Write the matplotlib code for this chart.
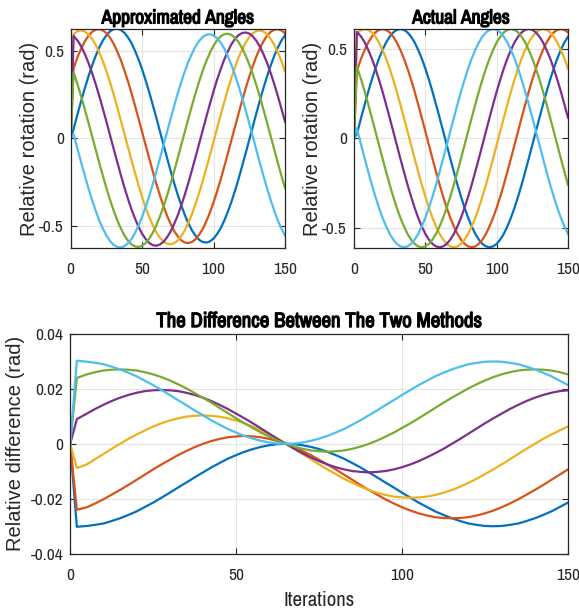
import matplotlib
matplotlib.use("Agg")
import matplotlib.pyplot as plt
from matplotlib import font_manager
import matplotlib.patheffects as pe

# ---------------- data ----------------
iterations = [0, 2, 5, 7.5, 10, 12.5, 15, 17.5, 20, 22.5, 25, 27.5, 30, 32.5, 35, 37.5,
              40, 42.5, 45, 47.5, 50, 52.5, 55, 57.5, 60, 62.5, 65, 67.5, 70, 72.5, 75,
              77.5, 80, 82.5, 85, 87.5, 90, 92.5, 95, 97.5, 100, 102.5, 105, 107.5, 110,
              112.5, 115, 117.5, 120, 122.5, 125, 127.5, 130, 132.5, 135, 137.5, 140,
              142.5, 145, 147.5, 150]

series_colors = ["#0072BD", "#D95319", "#EDB120", "#7E2F8E", "#77AC30", "#4DBEEE"]

# Approximated angles (rad)
apx_blue = [0, .053,
            .144, .218, .289, .355, .416, .471, .518, .558, .588, .611,
            .623, .626, .619, .603, .577, .544, .500, .450, .393, .330,
            .262, .189, .115, .038, -.038, -.114, -.188, -.259, -.325, -.386,
            -.441, -.488, -.528, -.558, -.581, -.593, -.596, -.589, -.573, -.547,
            -.514, -.470, -.420, -.363, -.300, -.232, -.159, -.085, -.008, .068,
            .144, .218, .289, .355, .416, .471, .518, .558, .588]
apx_orange = [0, .400,
              .468, .515, .555, .586, .608, .620, .623, .616, .600, .575,
              .541, .497, .448, .390, .327, .259, .186, .112, .035, -.041,
              -.117, -.190, -.262, -.328, -.389, -.444, -.490, -.531, -.561, -.584,
              -.596, -.599, -.592, -.576, -.550, -.517, -.473, -.423, -.366, -.303,
              -.235, -.162, -.087, -.011, .065, .141, .215, .286, .352, .413,
              .468, .515, .555, .586, .608, .620, .623, .616, .600]
apx_yellow = [0, .595,
              .613, .616, .609, .593, .567, .533, .490, .440, .383, .320,
              .252, .179, .104, .028, -.048, -.124, -.198, -.269, -.336, -.397,
              -.451, -.498, -.538, -.569, -.591, -.603, -.606, -.599, -.584, -.558,
              -.524, -.480, -.431, -.373, -.310, -.242, -.169, -.095, -.019, .058,
              .134, .207, .279, .345, .406, .461, .507, .548, .578, .600,
              .613, .616, .609, .593, .567, .533, .490, .440, .383]
apx_purple = [0, .585,
              .556, .522, .479, .429, .372, .309, .241, .169, .095, .018,
              -.058, -.133, -.207, -.278, -.344, -.405, -.459, -.506, -.546, -.576,
              -.599, -.611, -.614, -.607, -.591, -.565, -.532, -.488, -.439, -.382,
              -.319, -.251, -.178, -.104, -.028, .048, .124, .197, .269, .335,
              .395, .450, .496, .537, .567, .589, .601, .604, .598, .582,
              .556, .522, .479, .429, .372, .309, .241, .169, .095]
apx_green = [0, .376,
             .302, .234, .161, .087, .011, -.065, -.141, -.214, -.285, -.351,
             -.412, -.467, -.513, -.554, -.584, -.606, -.618, -.621, -.614, -.599,
             -.573, -.539, -.496, -.446, -.389, -.326, -.258, -.186, -.111, -.035,
             .041, .116, .190, .261, .327, .388, .442, .489, .529, .560,
             .582, .594, .597, .590, .574, .549, .515, .471, .422, .365,
             .302, .234, .161, .087, .011, -.065, -.141, -.214, -.285]
apx_lblue = [0, .023,
             -.068, -.144, -.217, -.288, -.354, -.415, -.470, -.516, -.556, -.587,
             -.609, -.621, -.624, -.617, -.601, -.576, -.542, -.498, -.449, -.392,
             -.329, -.261, -.189, -.114, -.038, .038, .113, .187, .258, .324,
             .385, .440, .486, .526, .557, .579, .591, .594, .587, .571,
             .546, .512, .468, .419, .362, .299, .231, .159, .084, .008,
             -.068, -.144, -.217, -.288, -.354, -.415, -.470, -.516, -.556]

# Actual angles (rad)
act_blue = [0, .023,
            .114, .188, .260, .327, .389, .445, .493, .535, .567, .591,
            .605, .610, .605, .591, .567, .535, .493, .445, .389, .327,
            .260, .188, .114, .038, -.038, -.114, -.188, -.260, -.327, -.389,
            -.445, -.493, -.535, -.567, -.591, -.605, -.610, -.605, -.591, -.567,
            -.535, -.493, -.445, -.389, -.327, -.260, -.188, -.114, -.038, .038,
            .114, .188, .260, .327, .389, .445, .493, .535, .567]
act_orange = [0, .377,
              .445, .493, .535, .567, .591, .605, .610, .605, .591, .567,
              .535, .493, .445, .389, .327, .260, .188, .114, .038, -.038,
              -.114, -.188, -.260, -.327, -.389, -.445, -.493, -.535, -.567, -.591,
              -.605, -.610, -.605, -.591, -.567, -.535, -.493, -.445, -.389, -.327,
              -.260, -.188, -.114, -.038, .038, .114, .188, .260, .327, .389,
              .445, .493, .535, .567, .591, .605, .610, .605, .591]
act_yellow = [0, .586,
              .605, .610, .605, .591, .567, .535, .493, .445, .389, .327,
              .260, .188, .114, .038, -.038, -.114, -.188, -.260, -.327, -.389,
              -.445, -.493, -.535, -.567, -.591, -.605, -.610, -.605, -.591, -.567,
              -.535, -.493, -.445, -.389, -.327, -.260, -.188, -.114, -.038, .038,
              .114, .188, .260, .327, .389, .445, .493, .535, .567, .591,
              .605, .610, .605, .591, .567, .535, .493, .445, .389]
act_purple = [0, .594,
              .567, .535, .493, .445, .389, .327, .260, .188, .114, .038,
              -.038, -.114, -.188, -.260, -.327, -.389, -.445, -.493, -.535, -.567,
              -.591, -.605, -.610, -.605, -.591, -.567, -.535, -.493, -.445, -.389,
              -.327, -.260, -.188, -.114, -.038, .038, .114, .188, .260, .327,
              .389, .445, .493, .535, .567, .591, .605, .610, .605, .591,
              .567, .535, .493, .445, .389, .327, .260, .188, .114]
act_green = [0, .400,
             .327, .260, .188, .114, .038, -.038, -.114, -.188, -.260, -.327,
             -.389, -.445, -.493, -.535, -.567, -.591, -.605, -.610, -.605, -.591,
             -.567, -.535, -.493, -.445, -.389, -.327, -.260, -.188, -.114, -.038,
             .038, .114, .188, .260, .327, .389, .445, .493, .535, .567,
             .591, .605, .610, .605, .591, .567, .535, .493, .445, .389,
             .327, .260, .188, .114, .038, -.038, -.114, -.188, -.260]
act_lblue = [0, .053,
             -.038, -.114, -.188, -.260, -.327, -.389, -.445, -.493, -.535, -.567,
             -.591, -.605, -.610, -.605, -.591, -.567, -.535, -.493, -.445, -.389,
             -.327, -.260, -.188, -.114, -.038, .038, .114, .188, .260, .327,
             .389, .445, .493, .535, .567, .591, .605, .610, .605, .591,
             .567, .535, .493, .445, .389, .327, .260, .188, .114, .038,
             -.038, -.114, -.188, -.260, -.327, -.389, -.445, -.493, -.535]

# Difference between the two methods (rad)
dif_blue = [0, -.0302,
            -.0299, -.0295, -.0290, -.0281, -.0271, -.0259, -.0246, -.0230, -.0214, -.0196,
            -.0178, -.0159, -.0141, -.0122, -.0104, -.0086, -.0070, -.0054, -.0041, -.0029,
            -.0019, -.0011, -.0005, -.0001, 0, -.0001, -.0005, -.0011, -.0019, -.0029,
            -.0041, -.0054, -.0070, -.0086, -.0104, -.0122, -.0141, -.0159, -.0178, -.0196,
            -.0214, -.0230, -.0246, -.0259, -.0271, -.0281, -.0290, -.0295, -.0299, -.0300,
            -.0299, -.0295, -.0290, -.0281, -.0271, -.0259, -.0246, -.0230, -.0214]
dif_orange = [0, -.0240,
              -.0231, -.0217, -.0202, -.0185, -.0168, -.0150, -.0131, -.0112, -.0093, -.0075,
              -.0058, -.0041, -.0026, -.0012, 0, .0010, .0018, .0024, .0027, .0029,
              .0027, .0024, .0018, .0010, 0, -.0012, -.0026, -.0041, -.0058, -.0075,
              -.0093, -.0112, -.0131, -.0150, -.0168, -.0185, -.0202, -.0217, -.0231, -.0243,
              -.0253, -.0261, -.0267, -.0270, -.0271, -.0270, -.0267, -.0261, -.0253, -.0243,
              -.0231, -.0217, -.0202, -.0185, -.0168, -.0150, -.0131, -.0112, -.0093]
dif_yellow = [0, -.0088,
              -.0075, -.0056, -.0037, -.0018, 0, .0018, .0034, .0049, .0063, .0075,
              .0085, .0093, .0099, .0102, .0104, .0102, .0099, .0093, .0085, .0075,
              .0063, .0049, .0034, .0018, 0, -.0018, -.0037, -.0056, -.0075, -.0093,
              -.0110, -.0127, -.0142, -.0156, -.0168, -.0178, -.0186, -.0192, -.0195, -.0196,
              -.0195, -.0192, -.0186, -.0178, -.0168, -.0156, -.0142, -.0127, -.0110, -.0093,
              -.0075, -.0056, -.0037, -.0018, 0, .0018, .0034, .0049, .0063]
dif_purple = [0, .0090,
              .0110, .0127, .0142, .0156, .0168, .0178, .0186, .0192, .0195, .0196,
              .0195, .0192, .0186, .0178, .0168, .0156, .0142, .0127, .0110, .0093,
              .0075, .0056, .0037, .0018, 0, -.0018, -.0034, -.0049, -.0063, -.0075,
              -.0085, -.0093, -.0099, -.0102, -.0104, -.0102, -.0099, -.0093, -.0085, -.0075,
              -.0063, -.0049, -.0034, -.0018, 0, .0018, .0037, .0056, .0075, .0093,
              .0110, .0127, .0142, .0156, .0168, .0178, .0186, .0192, .0195]
dif_green = [0, .0240,
             .0253, .0261, .0267, .0270, .0271, .0270, .0267, .0261, .0253, .0243,
             .0231, .0217, .0202, .0185, .0168, .0150, .0131, .0112, .0093, .0075,
             .0058, .0041, .0026, .0012, 0, -.0010, -.0018, -.0024, -.0027, -.0029,
             -.0027, -.0024, -.0018, -.0010, 0, .0012, .0026, .0041, .0058, .0075,
             .0093, .0112, .0131, .0150, .0168, .0185, .0202, .0217, .0231, .0243,
             .0253, .0261, .0267, .0270, .0271, .0270, .0267, .0261, .0253]
dif_lblue = [0, .0303,
             .0299, .0295, .0290, .0281, .0271, .0259, .0246, .0230, .0214, .0196,
             .0178, .0159, .0141, .0122, .0104, .0086, .0070, .0054, .0041, .0029,
             .0019, .0011, .0005, .0001, 0, .0001, .0005, .0011, .0019, .0029,
             .0041, .0054, .0070, .0086, .0104, .0122, .0141, .0159, .0178, .0196,
             .0214, .0230, .0246, .0259, .0271, .0281, .0290, .0295, .0299, .0300,
             .0299, .0295, .0290, .0281, .0271, .0259, .0246, .0230, .0214]

approx_series = [apx_blue, apx_orange, apx_yellow, apx_purple, apx_green, apx_lblue]
actual_series = [act_blue, act_orange, act_yellow, act_purple, act_green, act_lblue]
diff_series = [dif_blue, dif_orange, dif_yellow, dif_purple, dif_green, dif_lblue]

x_ticks = [0, 50, 100, 150]
top_yticks = [-0.5, 0, 0.5]
top_yticklabels = ["-0.5", "0", "0.5"]
bot_yticks = [-0.04, -0.02, 0, 0.02, 0.04]
bot_yticklabels = ["-0.04", "-0.02", "0", "0.02", "0.04"]

# ---------------- style ----------------
names = {f.name for f in font_manager.fontManager.ttflist}
narrow = "Liberation Sans"
for cand in ["Liberation Sans Narrow", "Arial Narrow", "Archivo Narrow", "PT Sans Narrow",
             "Roboto Condensed", "Pragati Narrow", "Fira Sans Condensed",
             "IBM Plex Sans Condensed", "Encode Sans Condensed"]:
    if cand in names:
        narrow = cand
        break
plt.rcParams["font.family"] = [narrow, "Liberation Sans", "DejaVu Sans"]
plt.rcParams["axes.unicode_minus"] = False

fig = plt.figure(figsize=(5.79, 6.12), dpi=100)
W, H = 579, 612

def px_axes(l, t, r, b):
    return fig.add_axes([l / W, 1 - b / H, (r - l) / W, (b - t) / H])

ax1 = px_axes(70.7, 29, 285, 248)
ax2 = px_axes(354, 29, 568, 248)
ax3 = px_axes(70.2, 334, 568, 553.7)

def style(ax):
    ax.set_xlim(0, 150)
    ax.set_xticks(x_ticks)
    ax.grid(True, color="#e3e3e3", linewidth=0.8)
    ax.set_axisbelow(True)
    ax.tick_params(direction="in", length=4, width=0.8, top=True, right=True,
                   labelsize=12.5, colors="#262626")
    ax.tick_params(axis="x", pad=10)
    ax.tick_params(axis="y", pad=5)
    for s in ax.spines.values():
        s.set_color("#262626")
        s.set_linewidth(0.9)

label_font = {"family": ["Liberation Sans", "DejaVu Sans"], "size": 14.5, "color": "#262626"}
title_font = {"family": [narrow, "Liberation Sans", "DejaVu Sans"], "size": 14,
              "weight": "bold", "color": "black"}
bold_fx = [pe.withStroke(linewidth=0.9, foreground="black")]

for ax, data, title in [(ax1, approx_series, "Approximated Angles"),
                        (ax2, actual_series, "Actual Angles")]:
    for ys, c in zip(data, series_colors):
        ax.plot(iterations, ys, color=c, linewidth=1.6)
    style(ax)
    ax.set_yticks(top_yticks)
    ax.set_yticklabels(top_yticklabels)
    t = ax.set_title(title, fontdict=title_font, pad=4)
    t.set_path_effects(bold_fx)
    ax.set_ylabel("Relative rotation (rad)", fontdict=label_font)
    ax.yaxis.set_label_coords(-0.148, 0.5)

ax1.set_ylim(-0.627, 0.624)
ax2.set_ylim(-0.614, 0.610)

for ys, c in zip(diff_series, series_colors):
    ax3.plot(iterations, ys, color=c, linewidth=1.6)
style(ax3)
ax3.set_ylim(-0.04, 0.04)
ax3.set_yticks(bot_yticks)
ax3.set_yticklabels(bot_yticklabels)
t3 = ax3.set_title("The Difference Between The Two Methods",
                   fontdict=dict(title_font, size=15), pad=5)
t3.set_path_effects(bold_fx)
ax3.set_ylabel("Relative difference (rad)", fontdict=label_font)
ax3.yaxis.set_label_coords(-0.09, 0.5)
ax3.set_xlabel("Iterations", fontdict={"family": [narrow, "Liberation Sans", "DejaVu Sans"],
                                       "size": 15, "color": "#262626"}, labelpad=6)

fig.savefig("out.png", dpi=100)
